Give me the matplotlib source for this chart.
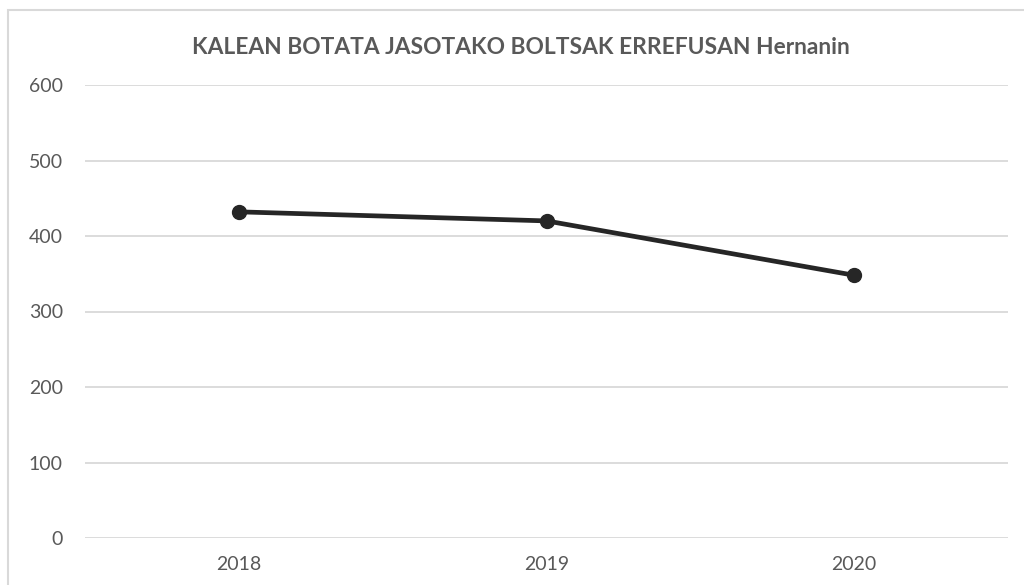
import matplotlib.pyplot as plt
from matplotlib.patches import Rectangle

years = ["2018", "2019", "2020"]
values = [432, 420, 348]
y_ticks = [0, 100, 200, 300, 400, 500, 600]
title = "KALEAN BOTATA JASOTAKO BOLTSAK ERREFUSAN Hernanin"

plt.rcParams['font.family'] = ['Lato', 'DejaVu Sans']

fig = plt.figure(figsize=(10.24, 5.85), dpi=100)
ax = fig.add_axes([85 / 1024, 1 - 538 / 585, 923 / 1024, 453 / 585])

# chart frame (runs off the right and bottom edges)
fig.patches.append(Rectangle((8 / 1024, -0.1), 1.2, 1 - 10 / 585 + 0.1,
                             transform=fig.transFigure, fill=False,
                             edgecolor='#d9d9d9', linewidth=1.5))

x = range(len(years))
ax.plot(x, values, color='#262626', linewidth=3.4, marker='o', markersize=10,
        solid_capstyle='round')

ax.set_xlim(-0.5, len(years) - 0.5)
ax.set_ylim(0, 600)
ax.set_xticks(list(x))
ax.set_xticklabels(years)
ax.set_yticks(y_ticks)
ax.grid(axis='y', color='#d9d9d9', linewidth=1.3)
ax.set_axisbelow(True)
for s in ax.spines.values():
    s.set_visible(False)
ax.tick_params(axis='both', length=0, labelsize=14, labelcolor='#595959')
ax.tick_params(axis='y', pad=16)
ax.tick_params(axis='x', pad=13)

fig.text(521 / 1024, 1 - 47 / 585, title, ha='center', va='center',
         fontsize=16.4, fontweight='bold', color='#595959')

fig.savefig("out.png", dpi=100)
